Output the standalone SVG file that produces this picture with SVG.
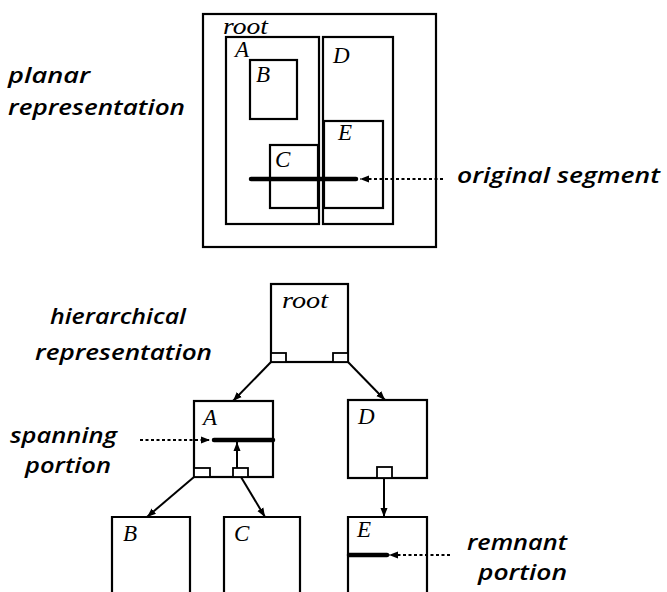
<svg xmlns="http://www.w3.org/2000/svg" width="667" height="592" viewBox="0 0 667 592">
<style>
.box{fill:none;stroke:#000;stroke-width:2.2}
.port{fill:#fff;stroke:#000;stroke-width:1.8}
.seg{stroke:#000;stroke-width:4.5;stroke-linecap:round}
.arr{stroke:#000;stroke-width:2;fill:none}
.dot{stroke:#000;stroke-width:2;stroke-dasharray:3 2.5;fill:none}
.lbl{font-family:"Open Sans","DejaVu Sans",sans-serif;font-style:italic;font-weight:600;font-size:22px;fill:#000}
.nm{font-family:"Liberation Serif","Times New Roman",serif;font-style:italic;font-size:23px;fill:#000}
</style>
<defs>
<marker id="ah" markerUnits="userSpaceOnUse" markerWidth="10" markerHeight="8" refX="9" refY="4" orient="auto">
<path d="M0,0.5 L9,4 L0,7.5 z" fill="#000"/>
</marker>
</defs>
<rect width="667" height="592" fill="#fff"/>

<g id="planar">
<rect class="box" x="203" y="14" width="233" height="233"/>
<rect class="box" x="226" y="37" width="93" height="187"/>
<rect class="box" x="323" y="37" width="70" height="187"/>
<rect class="box" x="250" y="60" width="47" height="59"/>
<rect class="box" x="324" y="121" width="59" height="87"/>
<rect class="box" x="270" y="145" width="48" height="63"/>
<text class="nm" x="223" y="34" textLength="45" lengthAdjust="spacingAndGlyphs">root</text>
<text class="nm" x="235" y="57">A</text>
<text class="nm" x="256" y="82">B</text>
<text class="nm" x="275" y="167">C</text>
<text class="nm" x="333" y="63">D</text>
<text class="nm" x="338" y="140">E</text>
<line class="seg" x1="251" y1="179" x2="356" y2="179"/>
</g>

<g id="labels">
<text class="lbl" x="8" y="83" textLength="82" lengthAdjust="spacingAndGlyphs">planar</text>
<text class="lbl" x="8" y="115" textLength="177" lengthAdjust="spacingAndGlyphs">representation</text>
<text class="lbl" x="457" y="183" textLength="203" lengthAdjust="spacingAndGlyphs">original segment</text>
<text class="lbl" x="50" y="324" textLength="136" lengthAdjust="spacingAndGlyphs">hierarchical</text>
<text class="lbl" x="35" y="360" textLength="177" lengthAdjust="spacingAndGlyphs">representation</text>
<text class="lbl" x="10" y="443" textLength="107" lengthAdjust="spacingAndGlyphs">spanning</text>
<text class="lbl" x="25" y="473" textLength="86" lengthAdjust="spacingAndGlyphs">portion</text>
<text class="lbl" x="467" y="550" textLength="100" lengthAdjust="spacingAndGlyphs">remnant</text>
<text class="lbl" x="478" y="580" textLength="89" lengthAdjust="spacingAndGlyphs">portion</text>
</g>

<g id="node-root">
<rect class="box" x="271" y="284" width="77" height="78"/>
<rect class="port" x="271" y="353" width="15" height="9"/>
<rect class="port" x="333" y="353" width="15" height="9"/>
<text class="nm" x="282" y="308" textLength="46" lengthAdjust="spacingAndGlyphs">root</text>
</g>

<g id="node-A">
<rect class="box" x="194" y="401" width="79" height="76"/>
<rect class="port" x="194" y="468" width="16" height="9"/>
<rect class="port" x="233" y="468" width="15" height="9"/>
<text class="nm" x="203" y="425">A</text>
<line class="seg" x1="214" y1="440" x2="273" y2="440"/>
</g>

<g id="node-D">
<rect class="box" x="348" y="400" width="79" height="78"/>
<rect class="port" x="377" y="467" width="15" height="11"/>
<text class="nm" x="358" y="424">D</text>
</g>

<g id="node-B">
<path class="box" d="M112,600 V517 H190 V600"/>
<text class="nm" x="123" y="541">B</text>
</g>

<g id="node-C">
<path class="box" d="M224,600 V517 H300 V600"/>
<text class="nm" x="234" y="541">C</text>
</g>

<g id="node-E">
<path class="box" d="M348,600 V517 H427 V600"/>
<text class="nm" x="357" y="537">E</text>
<line class="seg" x1="349" y1="555" x2="387" y2="555"/>
</g>

<g id="connectors">
<line class="arr" x1="271" y1="362" x2="233" y2="401" marker-end="url(#ah)"/>
<line class="arr" x1="348" y1="362" x2="385" y2="400" marker-end="url(#ah)"/>
<line class="arr" x1="194" y1="477" x2="147" y2="517" marker-end="url(#ah)"/>
<line class="arr" x1="241" y1="477" x2="265" y2="517" marker-end="url(#ah)"/>
<line class="arr" x1="384" y1="478" x2="384" y2="517" marker-end="url(#ah)"/>
<line class="arr" x1="237" y1="468" x2="237" y2="442" marker-end="url(#ah)"/>
<line class="dot" x1="443" y1="179" x2="360" y2="179" marker-end="url(#ah)"/>
<line class="dot" x1="140" y1="440" x2="210" y2="440" marker-end="url(#ah)"/>
<line class="dot" x1="450" y1="555" x2="389" y2="555" marker-end="url(#ah)"/>
</g>
</svg>
